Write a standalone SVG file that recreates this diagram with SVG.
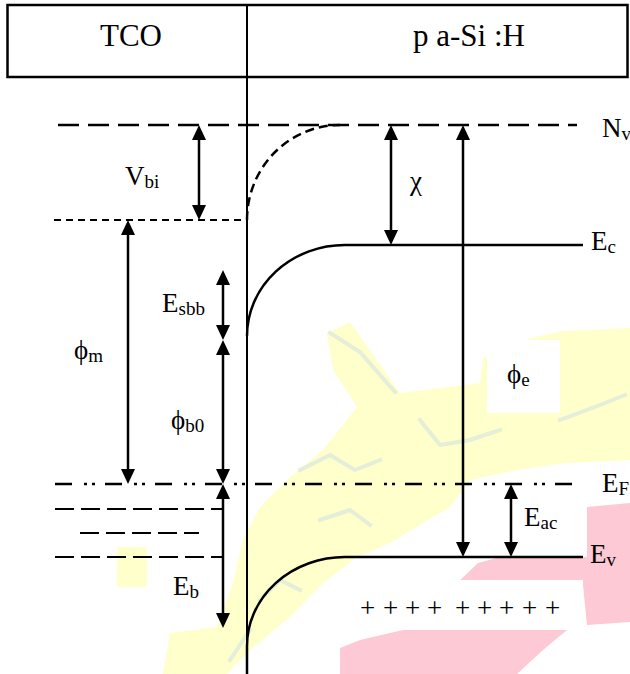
<svg xmlns="http://www.w3.org/2000/svg" width="630" height="674" viewBox="0 0 630 674">
<style>
  .t { font-family: "Liberation Serif", "Times New Roman", "DejaVu Serif", serif; font-size: 27px; fill: #000; }
  .h { font-family: "Liberation Serif", "Times New Roman", serif; font-size: 31px; fill: #000; }
  .s { font-size: 19px; }
  .ln { stroke: #000; stroke-width: 2.5; fill: none; }
  .thin { stroke: #000; stroke-width: 2; fill: none; }
  .arr { stroke: #000; stroke-width: 2.5; fill: none; marker-start: url(#ah); marker-end: url(#ah); }
  .dash1 { stroke-dasharray: 21 9; }
  .dash2 { stroke-dasharray: 7 5; }
  .dash3 { stroke-dasharray: 19 7; }
  .dashc { stroke-dasharray: 9 5; }
  .dashdot { stroke-dasharray: 17 12 3 5 3 10; }
  .wm-y { fill: #ffffcc; }
  .wm-p { fill: #fdc9d4; }
  .wm-g { stroke: #e4eed8; stroke-width: 4; fill: none; stroke-linejoin: round; stroke-linecap: square; }
  .bg { fill: #fff; }
</style>
<defs>
  <marker id="ah" viewBox="0 0 15 14" markerUnits="userSpaceOnUse" markerWidth="15" markerHeight="14" refX="9" refY="7" orient="auto-start-reverse">
    <path d="M0,0 L15,7 L0,14 z" fill="#000"/>
  </marker>
</defs>

<g id="watermark">
  <polygon class="wm-y" points="630,328 563,331 530,338 483,358 480,383 400,393 350,322 327,333 333,370 357,407 323,450 290,477 260,507 243,540 233,583 217,627 170,633 163,674 227,674 250,650 290,617 323,583 357,557 390,543 423,523 450,507 470,480 517,470 567,463 630,460"/>
  <rect class="wm-y" x="117" y="547" width="30" height="40"/>
  <polygon class="wm-p" points="455,585 478,563 500,557 587,557 587,507 630,503 630,622 587,625 583,585"/>
  <polygon class="wm-p" points="340,648 360,640 403,630 567,630 543,650 517,674 340,674"/>
  <path class="wm-g" d="M330,333 L360,352 L395,392"/>
  <path class="wm-g" d="M420,420 L440,445 L470,440 L500,430"/>
  <path class="wm-g" d="M560,420 L600,405 L625,395"/>
  <path class="wm-g" d="M300,470 L330,455 L355,470 L380,460"/>
  <path class="wm-g" d="M320,520 L350,510 L370,525"/>
  <path class="wm-g" d="M260,600 L280,580 L300,590"/>
  <path class="wm-g" d="M230,660 L250,630"/>
  <rect class="bg" x="487" y="340" width="73" height="73"/>
  <rect class="bg" x="343" y="580" width="240" height="50"/>
</g>

<g id="header">
  <rect x="7.5" y="5" width="620" height="72" fill="none" stroke="#000" stroke-width="2.5"/>
  <text class="h" x="131" y="46" text-anchor="middle">TCO</text>
  <text class="h" x="469" y="46" text-anchor="middle">p a-Si :H</text>
</g>

<g id="interface">
  <line class="thin" x1="247" y1="5" x2="247" y2="674"/>
</g>

<g id="levels">
  <line class="ln dash1" x1="58" y1="125" x2="577" y2="125"/>
  <line class="thin dash2" x1="54" y1="220" x2="247" y2="220"/>
  <path class="ln dashc" d="M247,220 A93,95 0 0 1 340,125"/>
  <path class="ln" d="M247,336 A98,91 0 0 1 345,245 L583,245"/>
  <line class="ln dashdot" x1="55" y1="484" x2="583" y2="484"/>
  <line class="thin dash3" x1="55" y1="509" x2="222" y2="509"/>
  <line class="thin dash3" x1="80" y1="533" x2="199" y2="533"/>
  <line class="thin dash3" x1="55" y1="557" x2="222" y2="557"/>
  <path class="ln" d="M247,674 L247,646 A98,89 0 0 1 345,557 L583,557"/>
</g>

<g id="connectors">
  <line class="arr" x1="199" y1="131" x2="199" y2="214"/>
  <line class="arr" x1="128" y1="226" x2="128" y2="478"/>
  <line class="arr" x1="391" y1="131" x2="391" y2="239"/>
  <line class="arr" x1="463" y1="131" x2="463" y2="551"/>
  <line class="arr" x1="223" y1="276" x2="223" y2="334"/>
  <line class="arr" x1="223" y1="346" x2="223" y2="478"/>
  <line class="arr" x1="223" y1="490" x2="223" y2="622"/>
  <line class="arr" x1="511" y1="490" x2="511" y2="551"/>
</g>

<g id="labels">
  <text class="t" x="602" y="137">N<tspan class="s" dy="3">v</tspan></text>
  <text class="t" x="125" y="185">V<tspan class="s" dy="3">bi</tspan></text>
  <text class="t" x="410" y="190">χ</text>
  <text class="t" x="591" y="250">E<tspan class="s" dy="3">c</tspan></text>
  <text class="t" x="162" y="312">E<tspan class="s" dy="3">sbb</tspan></text>
  <text class="t" x="74" y="359">ϕ<tspan class="s" dy="3">m</tspan></text>
  <text class="t" x="507" y="383">ϕ<tspan class="s" dy="3">e</tspan></text>
  <text class="t" x="171" y="429">ϕ<tspan class="s" dy="3">b0</tspan></text>
  <text class="t" x="602" y="492">E<tspan class="s" dy="3">F</tspan></text>
  <text class="t" x="524" y="526">E<tspan class="s" dy="3">ac</tspan></text>
  <text class="t" x="590" y="563">E<tspan class="s" dy="3">v</tspan></text>
  <text class="t" x="173" y="595">E<tspan class="s" dy="3">b</tspan></text>
  <text class="t" x="360 383 405 427 449 455 477 499 522 545" y="617">++++ +++++</text>
</g>
</svg>
